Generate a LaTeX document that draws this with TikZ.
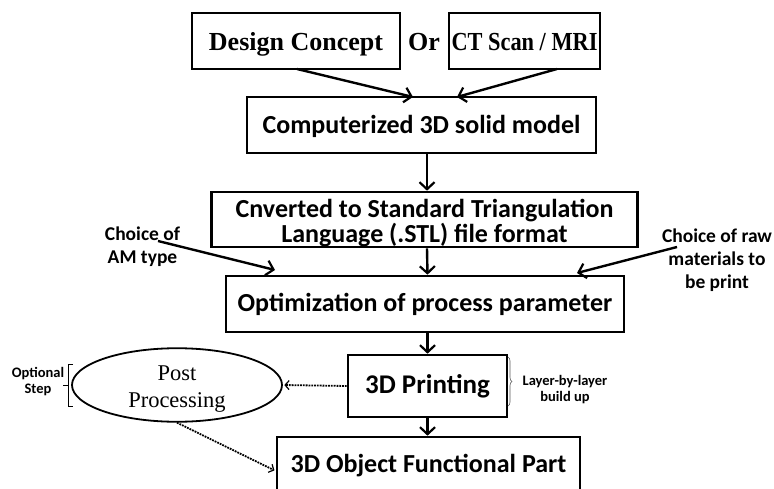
\documentclass[tikz,border=0pt]{standalone}
\usepackage{fontspec}
\setmainfont{Liberation Serif}
\newfontfamily\calfont{Carlito}
\usetikzlibrary{arrows.meta,shapes.geometric,decorations.pathreplacing}
\begin{document}
\begin{tikzpicture}[x=1pt,y=-1pt,
  box/.style={draw,line width=2.6pt,inner sep=0pt,align=center},
  tms/.style={font=\bfseries\fontsize{26}{30}\selectfont},
  cal/.style={font=\calfont\bfseries\fontsize{26}{25}\selectfont},
  flow/.style={line width=2.4pt,-{Straight Barb[length=7pt,width=15pt,line width=2.2pt]}},
  dots/.style={line width=1.8pt,densely dotted,-{Straight Barb[length=4pt,width=9pt,line width=1.2pt,sep]}},
  lbl/.style={font=\calfont\bfseries\fontsize{19.5}{23}\selectfont,align=center,inner sep=0pt},
  small/.style={font=\calfont\bfseries\fontsize{14.5}{16}\selectfont,align=center,inner sep=0pt}]
\useasboundingbox (0,0) rectangle (774,489);
\node[box,tms,minimum width=208pt,minimum height=56pt,text height=20pt,text depth=0.6pt] (dc) at (296,41) {Design Concept};
\node[tms,anchor=base,inner sep=0pt] (or) at (424,50.7) {Or};
\node[box,tms,minimum width=151pt,minimum height=56pt,text height=20pt,text depth=0.6pt] (ct) at (524.5,41) {\scalebox{0.86}[1]{CT Scan / MRI}};
\node[box,cal,minimum width=349pt,minimum height=56pt,text height=18.5pt,text depth=0.5pt] (cm) at (421.5,125) {Computerized 3D solid model};
\node[box,cal,minimum width=426pt,minimum height=55pt,text height=48pt,text depth=1pt] (stl) at (424.5,219.5) {Cnverted to Standard Triangulation\\Language (.STL) file format};
\node[box,cal,minimum width=398pt,minimum height=56pt,text height=16.5pt,text depth=0.5pt] (op) at (425,304) {Optimization of process parameter};
\node[box,cal,font=\calfont\bfseries\fontsize{27}{30}\selectfont,minimum width=159pt,minimum height=62pt,text height=15.1pt,text depth=0.5pt] (pr) at (427.5,386) {3D Printing};
\node[box,cal,minimum width=303pt,minimum height=56pt,text height=16pt,text depth=0.6pt] (ob) at (428.5,465) {3D Object Functional Part};
\node[draw,ellipse,line width=1.8pt,minimum width=210pt,minimum height=66pt,inner sep=0pt,text height=48pt,text depth=4pt,font=\fontsize{22.5}{27}\selectfont,align=center] (pp) at (177,385) {Post\\Processing};
\node[lbl,anchor=base] (am) at (142.5,263) {Choice of\\AM type};
\node[lbl,anchor=base] (raw) at (717,288) {Choice of raw\\materials to\\be print};
\node[small,anchor=base] (os) at (38,393) {Optional\\Step};
\node[small,anchor=base] (lb) at (565,401) {Layer-by-layer\\build up};
\coordinate (amS) at (158,241);
\coordinate (amE) at (275,270);
\coordinate (rawS) at (677,247);
\coordinate (rawE) at (577,273);
\coordinate (dcS) at (297,69);
\coordinate (dcE) at (413,97);
\coordinate (ctS) at (557,69);
\coordinate (ctE) at (457,97);
\draw[flow] (dcS) -- (dcE);
\draw[flow] (ctS) -- (ctE);
\draw[flow] ([xshift=5.5pt]cm.south) -- ([xshift=2.5pt]stl.north);
\draw[flow] ([xshift=2.5pt]stl.south) -- ([xshift=2.5pt]op.north);
\draw[flow] (amS) -- (amE);
\draw[flow] (rawS) -- (rawE);
\draw[flow] ([xshift=2.5pt]op.south) -- (pr.north);
\draw[flow] (pr.south) -- ([xshift=-1pt]ob.north);
\draw[dots] (pr.west) -- (pp.east);
\draw[dots] (pp.south) -- ([yshift=-6pt]ob.west);
\draw[line width=0.8pt] (73,364) -- (68,364) -- (68,406) -- (73,406);
\draw[line width=0.8pt] (68,385) -- (63,385);
\draw[line width=0.6pt,gray!70!black,decorate,decoration={brace,amplitude=4pt}] (508,357) -- (508,406);
\end{tikzpicture}
\end{document}
